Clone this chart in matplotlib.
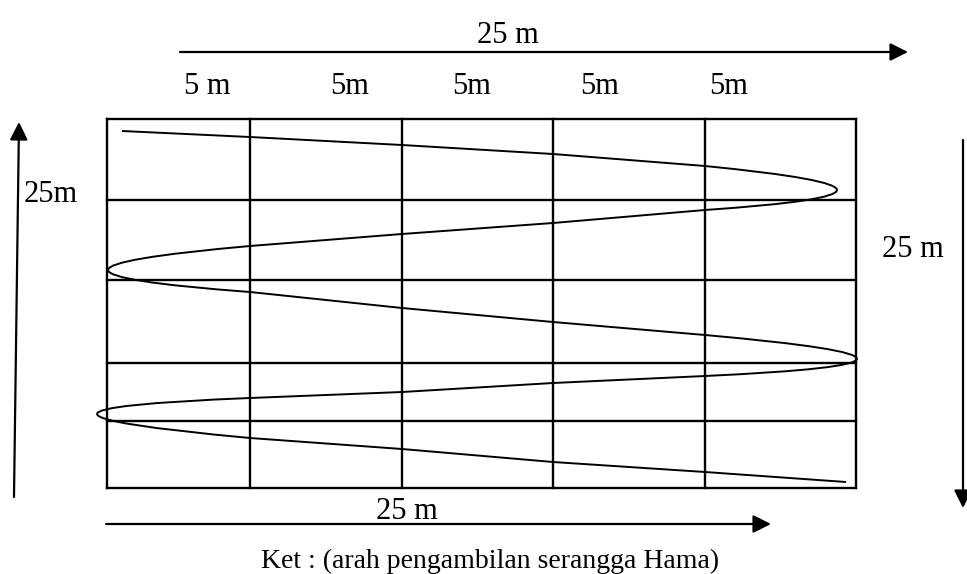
import matplotlib
matplotlib.use("Agg")
import matplotlib.pyplot as plt
from matplotlib.path import Path
from matplotlib.patches import PathPatch

plt.rcParams['font.family'] = ['Liberation Serif', 'DejaVu Serif']

# ---- data (figure pixel space, y downwards) ----
col_edges = [107, 250, 402, 553, 705, 856]
row_edges = [119, 200, 280, 363, 421, 488]

top_labels = ["5 m", "5m", "5m", "5m", "5m"]
top_label_x = [207, 350, 472, 600, 729]

# sampling route: legs (straight-ish runs) and turn control points
leg1 = [(122, 131), (250, 137), (402, 145), (553, 154), (705, 166)]
turn1 = [(969, 192), (705, 210)]
leg2 = [(553, 223), (402, 234), (250, 246)]
turn2 = [(-34, 271), (250, 292)]
leg3 = [(402, 308), (553, 322), (705, 335)]
turn3 = [(1009, 362), (705, 376)]
leg4 = [(553, 383), (402, 392), (250, 398)]
turn4 = [(-56, 410), (250, 438)]
leg5 = [(402, 449), (553, 462), (705, 472), (846, 482)]

W, H = 967, 574
fig = plt.figure(figsize=(W / 100, H / 100), dpi=100)
ax = fig.add_axes([0, 0, 1, 1])
ax.set_xlim(0, W)
ax.set_ylim(H, 0)
ax.axis('off')

# grid
for x in col_edges:
    ax.plot([x, x], [row_edges[0], row_edges[-1]], color='black', lw=1.7, solid_capstyle='projecting')
for y in row_edges:
    ax.plot([col_edges[0], col_edges[-1]], [y, y], color='black', lw=1.7, solid_capstyle='projecting')

# route curve
verts, codes = [], []
def add_line(pts, first=False):
    for i, p in enumerate(pts):
        verts.append(p)
        codes.append(Path.MOVETO if (first and i == 0) else Path.LINETO)
def add_turn(pts):
    for p in pts:
        verts.append(p)
        codes.append(Path.CURVE3)

add_line(leg1, first=True)
add_turn(turn1)
add_line(leg2)
add_turn(turn2)
add_line(leg3)
add_turn(turn3)
add_line(leg4)
add_turn(turn4)
add_line(leg5)
ax.add_patch(PathPatch(Path(verts, codes), fill=False, lw=1.4, color='black',
                       joinstyle='round', clip_on=False))

# arrows
def arrow(start, end):
    ax.annotate('', xy=end, xytext=start,
                arrowprops=dict(arrowstyle='-|>,head_length=0.6,head_width=0.3',
                                mutation_scale=18, lw=1.6, color='black',
                                shrinkA=0, shrinkB=0))

arrow((180, 52), (908, 52))      # top
arrow((14, 497), (19, 122))      # left, upwards
arrow((963, 140), (963, 508))    # right, downwards
arrow((106, 524), (771, 524))    # bottom

fs = 22
ax.text(508, 43, "25 m", fontsize=fs, ha='center', va='baseline')
for lab, x in zip(top_labels, top_label_x):
    ax.text(x, 94, lab, fontsize=fs, ha='center', va='baseline')
ax.text(24, 202, "25m", fontsize=fs, ha='left', va='baseline')
ax.text(882, 257, "25 m", fontsize=fs, ha='left', va='baseline')
ax.text(407, 519, "25 m", fontsize=fs, ha='center', va='baseline')
ax.text(490, 568, "Ket : (arah pengambilan serangga Hama)", fontsize=20, ha='center', va='baseline')

fig.savefig("out.png", dpi=100)
